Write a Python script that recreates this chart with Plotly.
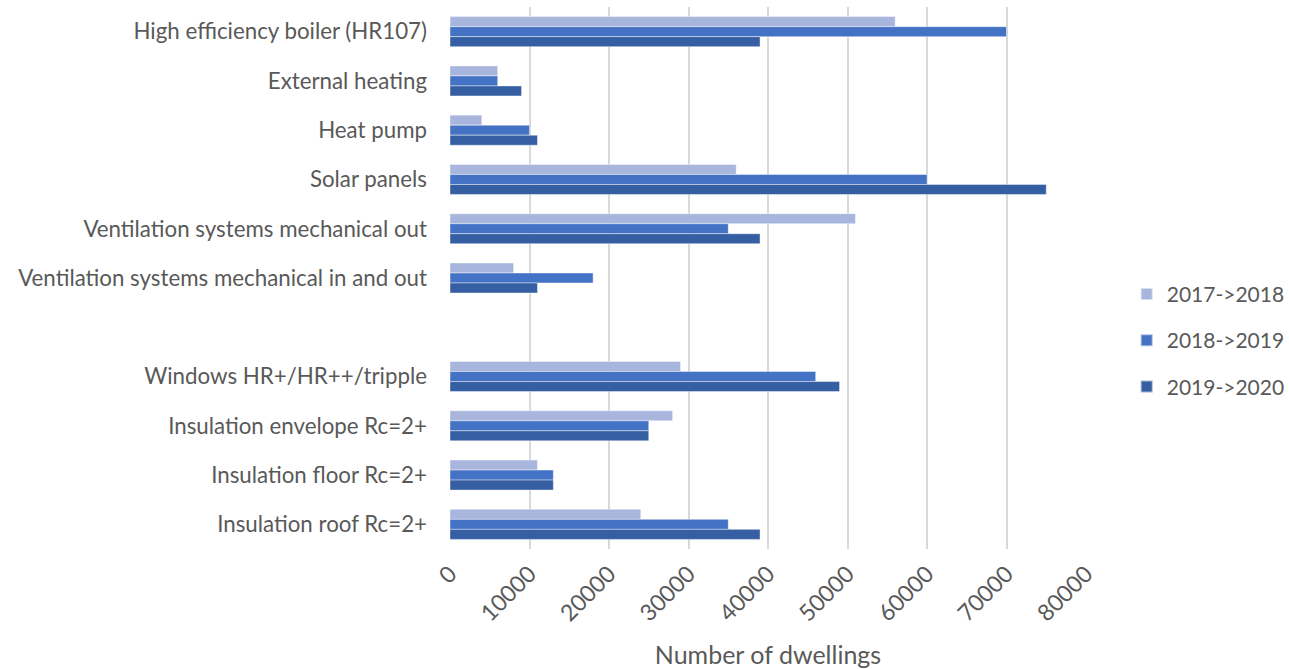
import plotly.graph_objects as go

# Measures, listed top to bottom (the blank entry is a spacer row)
categories = [
    "High efficiency boiler (HR107)",
    "External heating",
    "Heat pump",
    "Solar panels",
    "Ventilation systems mechanical out",
    "Ventilation systems mechanical in and out",
    " ",
    "Windows HR+/HR++/tripple",
    "Insulation envelope Rc=2+",
    "Insulation floor Rc=2+",
    "Insulation roof Rc=2+",
]

series_names = ["2017->2018", "2018->2019", "2019->2020"]

values_2017_2018 = [56000, 6000, 4000, 36000, 51000, 8000, 0, 29000, 28000, 11000, 24000]
values_2018_2019 = [70000, 6000, 10000, 60000, 35000, 18000, 0, 46000, 25000, 13000, 35000]
values_2019_2020 = [39000, 9000, 11000, 75000, 39000, 11000, 0, 49000, 25000, 13000, 39000]

x_ticks = [0, 10000, 20000, 30000, 40000, 50000, 60000, 70000, 80000]

colors = ["#a8b5dc", "#4472c4", "#355ea3"]
font_family = "Lato, 'Open Sans', sans-serif"
text_color = "#595959"

fig = go.Figure()
for name, vals, col in zip(series_names,
                           [values_2017_2018, values_2018_2019, values_2019_2020],
                           colors):
    fig.add_trace(go.Bar(
        name=name,
        legendgroup=name,
        y=categories,
        x=vals,
        orientation="h",
        marker=dict(color=col, line=dict(color="rgba(255,255,255,0.55)", width=0.8)),
    ))

fig.update_layout(
    width=1289,
    height=669,
    paper_bgcolor="white",
    plot_bgcolor="white",
    barmode="group",
    bargap=0.39,
    bargroupgap=0,
    margin=dict(l=450, r=203, t=7, b=120, autoexpand=False),
    font=dict(family=font_family, color=text_color, size=22),
    legend=dict(
        x=1.064, xanchor="left",
        y=0.385, yanchor="middle",
        traceorder="grouped",
        font=dict(size=21, color=text_color),
        itemsizing="constant",
        tracegroupgap=16,
        itemwidth=30,
    ),
    xaxis=dict(
        range=[0, 80000],
        tickvals=x_ticks,
        ticktext=[str(v) for v in x_ticks],
        tickangle=-45,
        showgrid=True,
        gridcolor="#d9d9d9",
        gridwidth=1.8,
        zeroline=False,
        showline=False,
        ticks="",
        ticklabelstandoff=6,
        tickfont=dict(size=23, color=text_color),
        title=dict(text="Number of dwellings", font=dict(size=25, color=text_color), standoff=21),
    ),
    yaxis=dict(
        categoryorder="array",
        categoryarray=categories,
        autorange="reversed",
        showgrid=False,
        zeroline=False,
        showline=False,
        ticks="",
        ticklabelstandoff=22,
        tickfont=dict(size=22.3, color=text_color),
    ),
)

fig.write_html("out.html")
